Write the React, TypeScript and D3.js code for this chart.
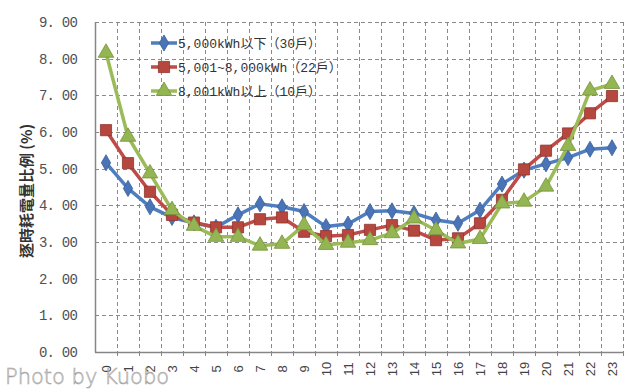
import React, { useRef, useEffect } from "react";
import * as d3 from "d3";

const hours = d3.range(24).map(String);
const yTicks = [0, 1, 2, 3, 4, 5, 6, 7, 8, 9];

const seriesNames = [
  "5,000kWh以下（30戶）",
  "5,001~8,000kWh（22戶）",
  "8,001kWh以上（10戶）",
];

const under5000 = [
  5.16, 4.46, 3.96, 3.67, 3.52, 3.4, 3.74, 4.04, 3.96, 3.83, 3.42, 3.49,
  3.83, 3.85, 3.78, 3.6, 3.51, 3.87, 4.58, 4.96, 5.13, 5.3, 5.53, 5.57,
];
const mid5000to8000 = [
  6.05, 5.15, 4.37, 3.74, 3.53, 3.4, 3.4, 3.62, 3.67, 3.28, 3.16, 3.19,
  3.33, 3.46, 3.31, 3.05, 3.1, 3.51, 4.15, 4.98, 5.49, 5.96, 6.51, 6.98,
];
const over8000 = [
  8.16, 5.87, 4.87, 3.87, 3.44, 3.14, 3.14, 2.9, 2.95, 3.46, 2.92, 2.98,
  3.05, 3.24, 3.64, 3.32, 2.96, 3.08, 4.05, 4.1, 4.51, 5.62, 7.13, 7.31,
];

const seriesValues = [under5000, mid5000to8000, over8000];
const lineColors = ["#4f7ec0", "#be4b48", "#9bbb59"];
const markerFill = ["#4a74b8", "#b5473f", "#93b552"];
const markerStroke = ["#3a5f98", "#8f3530", "#77933c"];
const markerTypes = [d3.symbolDiamond, d3.symbolSquare, d3.symbolTriangle];
const markerSizes = [75, 125, 105];

const App: React.FC = () => {
  const svgRef = useRef<SVGSVGElement>(null);

  useEffect(() => {
    if (!svgRef.current) return;
    const svg = d3.select(svgRef.current);
    svg.selectAll("*").remove();

    const left = 95;
    const right = 623;
    const top = 22;
    const bottom = 352;

    const x = d3.scaleBand().domain(hours).range([left, right]);
    const y = d3.scaleLinear().domain([0, 9]).range([bottom, top]);

    svg.append("rect").attr("width", 640).attr("height", 389).attr("fill", "#fff");

    // grid lines
    const grid = svg.append("g").attr("stroke", "#8a8a8a").attr("stroke-width", 1).attr("stroke-dasharray", "4,3");
    yTicks.slice(1).forEach((t) => {
      grid.append("line")
        .attr("x1", left).attr("x2", right)
        .attr("y1", Math.round(y(t)) + 0.5).attr("y2", Math.round(y(t)) + 0.5);
    });
    hours.forEach((h) => {
      const gx = Math.round((x(h) as number) + x.bandwidth()) + 0.5;
      grid.append("line")
        .attr("x1", gx).attr("x2", gx)
        .attr("y1", top).attr("y2", bottom);
    });

    // axes
    svg.append("line")
      .attr("x1", left + 0.5).attr("x2", left + 0.5)
      .attr("y1", top).attr("y2", bottom + 0.5)
      .attr("stroke", "#868686").attr("stroke-width", 1.5);
    svg.append("line")
      .attr("x1", left).attr("x2", right + 0.5)
      .attr("y1", bottom + 0.5).attr("y2", bottom + 0.5)
      .attr("stroke", "#868686").attr("stroke-width", 1.5);
    hours.forEach((h) => {
      const gx = Math.round((x(h) as number) + x.bandwidth()) + 0.5;
      svg.append("line")
        .attr("x1", gx).attr("x2", gx)
        .attr("y1", bottom).attr("y2", bottom + 4)
        .attr("stroke", "#868686");
    });

    // y tick labels
    svg.append("g")
      .selectAll("text")
      .data(yTicks)
      .join("text")
      .attr("x", 77)
      .attr("y", (d) => y(d))
      .attr("dy", "0.35em")
      .attr("text-anchor", "end")
      .attr("font-family", "'Liberation Mono', 'DejaVu Sans Mono', monospace")
      .attr("font-size", 14)
      .attr("fill", "#505050")
      .attr("letter-spacing", -0.8)
      .text((d) => d.toFixed(2).replace(".", ". "));

    // x tick labels
    svg.append("g")
      .selectAll("text")
      .data(hours)
      .join("text")
      .attr("transform", (d) => `translate(${(x(d) as number) + x.bandwidth() / 2},369) rotate(-90)`)
      .attr("dy", "0.35em")
      .attr("text-anchor", "middle")
      .attr("font-family", "'Liberation Sans', Arial, sans-serif")
      .attr("font-size", 13)
      .attr("fill", "#444")
      .text((d) => d);

    // axis title
    svg.append("text")
      .attr("transform", "translate(27,191) rotate(-90)")
      .attr("text-anchor", "middle")
      .attr("dy", "0.35em")
      .attr("font-family", "'Noto Sans CJK TC', sans-serif")
      .attr("font-weight", "bold")
      .attr("font-size", 15)
      .attr("fill", "#333")
      .text("逐時耗電量比例 (%)");

    // series
    const line = d3.line<number>()
      .x((_, i) => (x(hours[i]) as number) + x.bandwidth() / 2)
      .y((d) => y(d));

    seriesValues.forEach((vals, s) => {
      svg.append("path")
        .datum(vals)
        .attr("fill", "none")
        .attr("stroke", lineColors[s])
        .attr("stroke-width", 3.5)
        .attr("stroke-linejoin", "round")
        .attr("d", line);
      const sym = d3.symbol().type(markerTypes[s]).size(markerSizes[s]);
      svg.append("g")
        .selectAll("path")
        .data(vals)
        .join("path")
        .attr("transform", (d, i) => `translate(${(x(hours[i]) as number) + x.bandwidth() / 2},${y(d)})`)
        .attr("d", sym()!)
        .attr("fill", markerFill[s])
        .attr("stroke", markerStroke[s])
        .attr("stroke-width", 0.8);
    });

    // legend
    seriesNames.forEach((name, s) => {
      const ly = 43 + s * 24;
      const g = svg.append("g");
      g.append("line")
        .attr("x1", 151).attr("x2", 177)
        .attr("y1", ly).attr("y2", ly)
        .attr("stroke", lineColors[s]).attr("stroke-width", 3.5);
      g.append("path")
        .attr("transform", `translate(164,${ly})`)
        .attr("d", d3.symbol().type(markerTypes[s]).size(markerSizes[s])()!)
        .attr("fill", markerFill[s])
        .attr("stroke", markerStroke[s])
        .attr("stroke-width", 0.8);
      g.append("text")
        .attr("x", 178)
        .attr("y", ly)
        .attr("dy", "0.35em")
        .attr("font-family", "'Liberation Mono', 'Noto Sans CJK TC', monospace")
        .attr("font-size", 13)
        .attr("fill", "#333")
        .text(name);
    });

    // watermark
    svg.append("text")
      .attr("x", 5)
      .attr("y", 384)
      .attr("font-family", "'DejaVu Sans', sans-serif")
      .attr("font-weight", 300)
      .attr("font-size", 21)
      .attr("fill", "#fff")
      .attr("fill-opacity", 0.4)
      .attr("stroke", "#a0a0a0")
      .attr("stroke-width", 0.6)
      .text("Photo by Kuobo");
  }, []);

  return (
    <svg
      ref={svgRef}
      width={640}
      height={389}
      style={{ position: "absolute", left: 0, top: 0 }}
    />
  );
};

export default App;
